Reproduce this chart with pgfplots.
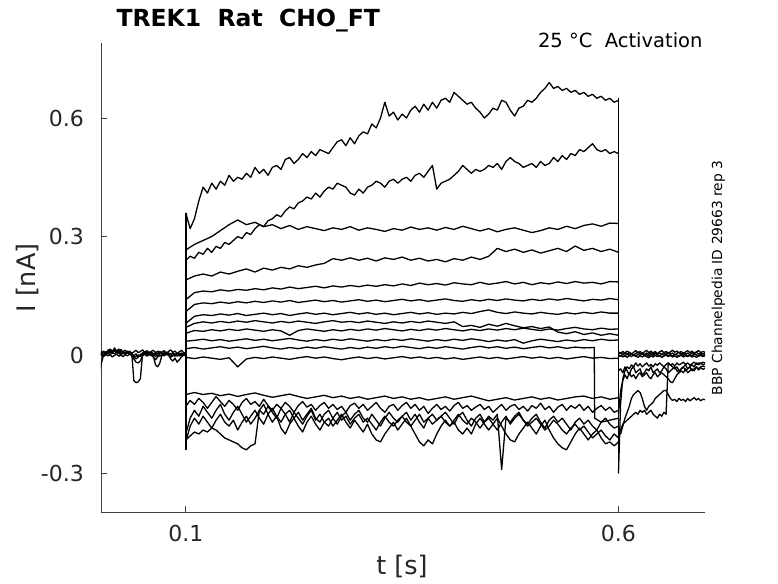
\documentclass[border=0pt]{standalone}
\usepackage{fontspec}
\setmainfont{DejaVu Sans}
\usepackage{pgfplots}
\pgfplotsset{compat=1.18}
\newcommand{\trace}[3]{\addplot[black, line width=1.3pt, line join=round, mark=none] table[row sep=\\, header=false, y index=0, x expr={#1+#2*\coordindex}] {#3};}
\begin{document}
\begin{tikzpicture}
\useasboundingbox (-101pt,-71pt) rectangle (677pt,512pt);
\begin{axis}[
 at={(0pt,0pt)}, anchor=south west,
 scale only axis, width=604pt, height=469pt,
 xmin=0.002, xmax=0.7, ymin=-0.3975, ymax=0.79,
 axis x line*=bottom, axis y line*=left,
 axis line style={draw=black!75, line width=0.8pt, -},
 xtick={0.1,0.6}, xticklabels={0.1,0.6},
 ytick={-0.3,0,0.3,0.6}, yticklabels={-0.3,0,0.3,0.6},
 tick align=inside, major tick length=6pt,
 tick style={draw=black!75, line width=0.8pt},
 ticklabel style={font=\fontsize{22}{26}\selectfont, text=black!85},
 xticklabel style={inner sep=0pt, anchor=north, yshift=-13pt},
 yticklabel style={inner sep=0pt, anchor=east, xshift=-17pt},
 clip=true,
 cycle list={{black,mark=none}},
]
% ---- pre-pulse (0 - 0.1), step 0.0025
\trace{0}{0.0025}{-0.045\\-0.02\\0.0\\0.008\\0.004\\0.01\\0.006\\0.012\\0.005\\0.009\\0.003\\0.008\\0.004\\0.01\\0.005\\0.002\\-0.005\\-0.01\\-0.005\\0.0\\0.004\\0.008\\0.003\\0.007\\0.002\\-0.006\\-0.012\\-0.005\\0.003\\0.006\\0.002\\0.007\\0.001\\-0.01\\-0.015\\-0.008\\-0.018\\-0.012\\-0.005\\0.0\\0.003\\}
\trace{0}{0.0025}{0.005\\0.002\\0.008\\0.004\\0.012\\0.015\\0.01\\0.014\\0.008\\0.011\\0.006\\0.009\\0.004\\0.007\\0.003\\0.006\\-0.065\\-0.07\\-0.068\\-0.06\\0.002\\0.006\\0.003\\0.008\\0.004\\0.0\\0.006\\0.002\\0.007\\0.003\\0.006\\0.002\\0.005\\0.001\\0.004\\0.0\\0.003\\-0.002\\0.002\\0.004\\0.0\\}
\trace{0}{0.0025}{0.0\\0.004\\0.001\\0.006\\0.003\\0.008\\0.004\\0.018\\0.01\\0.015\\0.008\\0.005\\0.002\\0.006\\0.003\\0.0\\-0.01\\-0.018\\-0.02\\-0.015\\-0.002\\0.004\\0.001\\0.005\\0.002\\-0.003\\-0.025\\-0.03\\-0.02\\0.0\\0.004\\0.001\\0.005\\0.002\\0.006\\0.002\\-0.003\\0.002\\0.005\\0.001\\0.004\\}
\trace{0}{0.0025}{0.008\\0.003\\0.007\\0.002\\0.005\\0.001\\0.006\\0.003\\0.008\\0.004\\0.001\\0.005\\0.002\\0.006\\0.009\\0.004\\-0.002\\0.003\\-0.005\\0.001\\0.005\\0.002\\0.006\\0.003\\0.007\\0.004\\0.001\\0.005\\0.009\\0.004\\0.001\\0.005\\0.002\\-0.005\\-0.002\\0.003\\0.0\\0.004\\-0.003\\0.002\\0.0\\}
\trace{0}{0.0025}{-0.003\\0.0\\-0.004\\0.002\\-0.002\\0.001\\-0.005\\-0.001\\0.002\\-0.003\\0.0\\-0.004\\0.001\\-0.002\\0.002\\-0.001\\-0.006\\-0.003\\0.0\\-0.004\\-0.001\\0.002\\-0.003\\0.001\\-0.002\\0.002\\-0.004\\0.0\\-0.003\\0.001\\-0.002\\0.002\\-0.001\\-0.004\\0.0\\-0.003\\0.001\\-0.002\\0.002\\-0.001\\0.0\\}
\trace{0}{0.0025}{0.012\\0.006\\0.01\\0.004\\0.009\\0.013\\0.007\\0.011\\0.005\\0.01\\0.014\\0.008\\0.012\\0.006\\0.01\\0.004\\0.008\\0.012\\0.006\\0.009\\0.013\\0.007\\0.011\\0.005\\0.009\\0.012\\0.006\\0.01\\0.004\\0.008\\0.011\\0.005\\0.009\\0.013\\0.007\\0.01\\0.004\\0.008\\0.012\\0.006\\0.005\\}
% ---- steps
\addplot[black, line width=1.5pt, mark=none] coordinates {(0.1,-0.24) (0.1,0.36)};
\addplot[black, line width=1.3pt, mark=none] coordinates {(0.6,-0.3) (0.6,0.65)};
% ---- T1
\trace{0.1}{0.005}{0.36\\0.32\\0.345\\0.39\\0.425\\0.41\\0.435\\0.42\\0.44\\0.43\\0.455\\0.44\\0.45\\0.445\\0.46\\0.45\\0.475\\0.46\\0.47\\0.455\\0.475\\0.48\\0.47\\0.495\\0.50\\0.485\\0.495\\0.51\\0.50\\0.515\\0.505\\0.52\\0.515\\0.51\\0.525\\0.54\\0.545\\0.53\\0.55\\0.535\\0.555\\0.565\\0.56\\0.585\\0.575\\0.60\\0.64\\0.605\\0.615\\0.595\\0.61\\0.60\\0.62\\0.63\\0.615\\0.635\\0.62\\0.64\\0.625\\0.645\\0.65\\0.64\\0.665\\0.655\\0.645\\0.635\\0.64\\0.625\\0.615\\0.60\\0.61\\0.625\\0.62\\0.645\\0.64\\0.62\\0.605\\0.625\\0.63\\0.645\\0.64\\0.65\\0.665\\0.675\\0.69\\0.675\\0.68\\0.67\\0.675\\0.665\\0.67\\0.66\\0.665\\0.655\\0.66\\0.65\\0.655\\0.645\\0.65\\0.64\\0.645\\}
% ---- T2
\trace{0.1}{0.005}{0.24\\0.25\\0.245\\0.26\\0.255\\0.27\\0.26\\0.275\\0.27\\0.285\\0.28\\0.29\\0.30\\0.295\\0.31\\0.305\\0.32\\0.33\\0.325\\0.34\\0.345\\0.355\\0.35\\0.365\\0.375\\0.37\\0.385\\0.39\\0.40\\0.395\\0.41\\0.40\\0.415\\0.425\\0.42\\0.435\\0.43\\0.425\\0.41\\0.405\\0.42\\0.41\\0.425\\0.43\\0.44\\0.435\\0.425\\0.44\\0.445\\0.435\\0.445\\0.45\\0.44\\0.455\\0.46\\0.45\\0.465\\0.48\\0.42\\0.435\\0.44\\0.445\\0.455\\0.465\\0.48\\0.47\\0.46\\0.47\\0.465\\0.47\\0.48\\0.475\\0.485\\0.47\\0.49\\0.50\\0.49\\0.485\\0.475\\0.48\\0.485\\0.475\\0.49\\0.48\\0.485\\0.50\\0.49\\0.505\\0.495\\0.51\\0.505\\0.52\\0.515\\0.525\\0.535\\0.52\\0.515\\0.52\\0.51\\0.515\\0.51\\}
% ---- T3
\trace{0.1}{0.01}{0.266\\0.28\\0.29\\0.30\\0.315\\0.33\\0.342\\0.33\\0.336\\0.325\\0.33\\0.32\\0.328\\0.318\\0.325\\0.32\\0.315\\0.322\\0.318\\0.325\\0.316\\0.322\\0.318\\0.313\\0.32\\0.316\\0.324\\0.318\\0.322\\0.316\\0.323\\0.318\\0.326\\0.32\\0.314\\0.32\\0.312\\0.318\\0.322\\0.316\\0.31\\0.315\\0.322\\0.318\\0.326\\0.32\\0.328\\0.332\\0.326\\0.334\\0.333\\}
% ---- T4
\trace{0.1}{0.01}{0.19\\0.2\\0.205\\0.2\\0.21\\0.205\\0.212\\0.218\\0.21\\0.22\\0.215\\0.222\\0.218\\0.226\\0.222\\0.228\\0.232\\0.244\\0.24\\0.246\\0.24\\0.245\\0.238\\0.246\\0.242\\0.248\\0.24\\0.245\\0.238\\0.242\\0.236\\0.244\\0.24\\0.248\\0.242\\0.25\\0.27\\0.262\\0.268\\0.26\\0.266\\0.258\\0.264\\0.27\\0.262\\0.276\\0.265\\0.27\\0.262\\0.268\\0.26\\}
% ---- T5
\trace{0.1}{0.01}{0.14\\0.158\\0.162\\0.16\\0.165\\0.162\\0.166\\0.164\\0.168\\0.165\\0.17\\0.167\\0.172\\0.168\\0.171\\0.174\\0.17\\0.175\\0.172\\0.176\\0.173\\0.177\\0.174\\0.178\\0.175\\0.18\\0.176\\0.182\\0.178\\0.181\\0.177\\0.183\\0.18\\0.178\\0.184\\0.179\\0.182\\0.186\\0.18\\0.184\\0.178\\0.183\\0.18\\0.185\\0.181\\0.186\\0.182\\0.184\\0.18\\0.186\\0.185\\}
% ---- T6
\trace{0.1}{0.01}{0.11\\0.128\\0.132\\0.13\\0.134\\0.131\\0.135\\0.132\\0.136\\0.133\\0.137\\0.134\\0.138\\0.133\\0.136\\0.139\\0.135\\0.138\\0.134\\0.137\\0.14\\0.136\\0.139\\0.135\\0.138\\0.141\\0.137\\0.14\\0.136\\0.139\\0.142\\0.138\\0.136\\0.14\\0.137\\0.141\\0.138\\0.142\\0.139\\0.137\\0.141\\0.138\\0.142\\0.139\\0.143\\0.14\\0.137\\0.141\\0.139\\0.143\\0.14\\}
% ---- T7
\trace{0.1}{0.01}{0.08\\0.098\\0.102\\0.1\\0.104\\0.101\\0.105\\0.1\\0.103\\0.106\\0.102\\0.105\\0.1\\0.104\\0.107\\0.103\\0.106\\0.102\\0.105\\0.108\\0.104\\0.107\\0.103\\0.106\\0.102\\0.105\\0.108\\0.104\\0.107\\0.103\\0.106\\0.104\\0.108\\0.105\\0.11\\0.114\\0.108\\0.105\\0.109\\0.106\\0.104\\0.108\\0.105\\0.103\\0.107\\0.104\\0.108\\0.105\\0.109\\0.106\\0.106\\}
% ---- T8
\trace{0.1}{0.01}{0.07\\0.08\\0.084\\0.081\\0.085\\0.082\\0.086\\0.083\\0.087\\0.084\\0.081\\0.085\\0.082\\0.086\\0.083\\0.08\\0.084\\0.087\\0.083\\0.085\\0.082\\0.086\\0.083\\0.08\\0.084\\0.081\\0.085\\0.082\\0.086\\0.083\\0.08\\0.084\\0.072\\0.075\\0.07\\0.078\\0.073\\0.08\\0.074\\0.069\\0.072\\0.067\\0.071\\0.058\\0.054\\0.059\\0.052\\0.056\\0.05\\0.054\\0.05\\}
% ---- T9
\trace{0.1}{0.01}{0.055\\0.062\\0.06\\0.064\\0.061\\0.065\\0.062\\0.066\\0.063\\0.06\\0.064\\0.061\\0.05\\0.062\\0.066\\0.063\\0.06\\0.064\\0.061\\0.065\\0.062\\0.066\\0.063\\0.067\\0.064\\0.061\\0.065\\0.062\\0.066\\0.063\\0.067\\0.064\\0.061\\0.065\\0.062\\0.066\\0.063\\0.067\\0.064\\0.068\\0.065\\0.062\\0.066\\0.063\\0.067\\0.07\\0.066\\0.064\\0.068\\0.065\\0.066\\}
% ---- T10
\trace{0.1}{0.01}{0.035\\0.037\\0.04\\0.036\\0.039\\0.035\\0.038\\0.041\\0.037\\0.04\\0.036\\0.039\\0.042\\0.038\\0.035\\0.039\\0.036\\0.04\\0.037\\0.041\\0.038\\0.035\\0.039\\0.036\\0.04\\0.037\\0.041\\0.038\\0.035\\0.039\\0.036\\0.04\\0.037\\0.041\\0.038\\0.034\\0.038\\0.035\\0.039\\0.03\\0.036\\0.04\\0.037\\0.034\\0.038\\0.035\\0.039\\0.036\\0.04\\0.037\\0.038\\}
% ---- T11 (drops at the end)
\addplot[black, line width=1.3pt, line join=round, mark=none] table[row sep=\\, header=false, x index=0, y index=1] {0.10 0.016\\0.11 0.019\\0.12 0.015\\0.13 0.018\\0.14 0.021\\0.15 0.017\\0.16 0.02\\0.17 0.016\\0.18 0.019\\0.19 0.022\\0.20 0.018\\0.21 0.015\\0.22 0.019\\0.23 0.016\\0.24 0.02\\0.25 0.017\\0.26 0.021\\0.27 0.018\\0.28 0.015\\0.29 0.019\\0.30 0.016\\0.31 0.02\\0.32 0.017\\0.33 0.021\\0.34 0.018\\0.35 0.022\\0.36 0.019\\0.37 0.016\\0.38 0.02\\0.39 0.017\\0.40 0.021\\0.41 0.018\\0.42 0.015\\0.43 0.019\\0.44 0.022\\0.45 0.018\\0.46 0.021\\0.47 0.017\\0.48 0.02\\0.49 0.016\\0.50 0.019\\0.51 0.022\\0.52 0.018\\0.53 0.021\\0.54 0.017\\0.55 0.02\\0.56 0.018\\0.572 0.019\\0.5725 -0.16\\0.58 -0.17\\0.59 -0.165\\0.60 -0.16\\};
% ---- T12
\trace{0.1}{0.01}{-0.006\\-0.009\\-0.005\\-0.008\\-0.011\\-0.007\\-0.03\\-0.01\\-0.006\\-0.009\\-0.005\\-0.008\\-0.011\\-0.007\\-0.004\\-0.008\\-0.005\\-0.009\\-0.012\\-0.008\\-0.005\\-0.009\\-0.006\\-0.01\\-0.007\\-0.004\\-0.008\\-0.005\\-0.009\\-0.006\\-0.01\\-0.007\\-0.011\\-0.008\\-0.005\\-0.009\\-0.006\\-0.01\\-0.007\\-0.004\\-0.008\\-0.005\\-0.009\\-0.006\\-0.01\\-0.007\\-0.004\\-0.008\\-0.006\\-0.009\\-0.008\\}
% ---- N1
\trace{0.1}{0.01}{-0.1\\-0.095\\-0.1\\-0.097\\-0.103\\-0.099\\-0.105\\-0.1\\-0.096\\-0.102\\-0.107\\-0.103\\-0.099\\-0.105\\-0.11\\-0.106\\-0.102\\-0.108\\-0.104\\-0.11\\-0.106\\-0.112\\-0.108\\-0.104\\-0.11\\-0.106\\-0.112\\-0.108\\-0.114\\-0.11\\-0.106\\-0.112\\-0.108\\-0.104\\-0.11\\-0.116\\-0.112\\-0.108\\-0.114\\-0.11\\-0.106\\-0.112\\-0.108\\-0.114\\-0.11\\-0.106\\-0.104\\-0.11\\-0.106\\-0.112\\-0.108\\}
% ---- N2
\trace{0.1}{0.005}{-0.13\\-0.115\\-0.125\\-0.11\\-0.12\\-0.135\\-0.12\\-0.105\\-0.118\\-0.13\\-0.115\\-0.125\\-0.14\\-0.12\\-0.11\\-0.125\\-0.118\\-0.13\\-0.112\\-0.128\\-0.14\\-0.125\\-0.135\\-0.12\\-0.13\\-0.145\\-0.128\\-0.118\\-0.132\\-0.125\\-0.14\\-0.128\\-0.12\\-0.135\\-0.125\\-0.138\\-0.13\\-0.145\\-0.128\\-0.122\\-0.135\\-0.125\\-0.14\\-0.13\\-0.12\\-0.135\\-0.145\\-0.13\\-0.125\\-0.14\\-0.128\\-0.12\\-0.135\\-0.125\\-0.14\\-0.13\\-0.148\\-0.135\\-0.125\\-0.138\\-0.13\\-0.142\\-0.128\\-0.12\\-0.135\\-0.128\\-0.14\\-0.132\\-0.125\\-0.138\\-0.13\\-0.145\\-0.135\\-0.125\\-0.14\\-0.13\\-0.125\\-0.138\\-0.13\\-0.142\\-0.128\\-0.135\\-0.122\\-0.138\\-0.13\\-0.145\\-0.132\\-0.125\\-0.14\\-0.128\\-0.135\\-0.125\\-0.14\\-0.13\\-0.145\\-0.135\\-0.128\\-0.14\\-0.132\\-0.145\\-0.14\\}
% ---- N3
\trace{0.1}{0.005}{-0.2\\-0.16\\-0.14\\-0.155\\-0.13\\-0.145\\-0.16\\-0.14\\-0.125\\-0.15\\-0.165\\-0.145\\-0.13\\-0.15\\-0.17\\-0.155\\-0.14\\-0.16\\-0.175\\-0.15\\-0.135\\-0.155\\-0.17\\-0.15\\-0.14\\-0.16\\-0.145\\-0.165\\-0.15\\-0.135\\-0.16\\-0.17\\-0.15\\-0.14\\-0.16\\-0.175\\-0.155\\-0.145\\-0.165\\-0.15\\-0.14\\-0.16\\-0.17\\-0.15\\-0.165\\-0.18\\-0.16\\-0.145\\-0.16\\-0.17\\-0.155\\-0.145\\-0.165\\-0.15\\-0.17\\-0.185\\-0.16\\-0.15\\-0.165\\-0.155\\-0.145\\-0.16\\-0.175\\-0.155\\-0.145\\-0.165\\-0.18\\-0.16\\-0.15\\-0.17\\-0.155\\-0.165\\-0.15\\-0.29\\-0.16\\-0.17\\-0.155\\-0.145\\-0.165\\-0.175\\-0.16\\-0.15\\-0.17\\-0.185\\-0.165\\-0.155\\-0.17\\-0.16\\-0.175\\-0.19\\-0.17\\-0.16\\-0.175\\-0.165\\-0.18\\-0.19\\-0.17\\-0.16\\-0.175\\-0.185\\-0.18\\}
% ---- N4
\trace{0.1}{0.005}{-0.22\\-0.18\\-0.16\\-0.175\\-0.155\\-0.17\\-0.185\\-0.165\\-0.15\\-0.17\\-0.18\\-0.165\\-0.19\\-0.17\\-0.155\\-0.175\\-0.16\\-0.14\\-0.125\\-0.15\\-0.17\\-0.155\\-0.185\\-0.2\\-0.175\\-0.16\\-0.18\\-0.195\\-0.17\\-0.155\\-0.175\\-0.19\\-0.17\\-0.16\\-0.18\\-0.165\\-0.15\\-0.17\\-0.185\\-0.165\\-0.18\\-0.195\\-0.175\\-0.2\\-0.215\\-0.22\\-0.2\\-0.185\\-0.17\\-0.19\\-0.175\\-0.16\\-0.18\\-0.2\\-0.22\\-0.23\\-0.215\\-0.225\\-0.2\\-0.18\\-0.165\\-0.18\\-0.17\\-0.19\\-0.2\\-0.185\\-0.2\\-0.175\\-0.16\\-0.175\\-0.19\\-0.175\\-0.16\\-0.18\\-0.2\\-0.215\\-0.22\\-0.2\\-0.185\\-0.17\\-0.185\\-0.2\\-0.18\\-0.165\\-0.19\\-0.21\\-0.225\\-0.235\\-0.24\\-0.22\\-0.2\\-0.185\\-0.2\\-0.215\\-0.2\\-0.19\\-0.21\\-0.225\\-0.22\\-0.23\\-0.22\\}
% ---- N5
\trace{0.1}{0.005}{-0.215\\-0.205\\-0.195\\-0.2\\-0.19\\-0.195\\-0.185\\-0.19\\-0.2\\-0.21\\-0.215\\-0.22\\-0.225\\-0.235\\-0.24\\-0.23\\-0.225\\-0.14\\-0.15\\-0.13\\-0.145\\-0.16\\-0.135\\-0.15\\-0.17\\-0.145\\-0.16\\-0.175\\-0.155\\-0.14\\-0.165\\-0.15\\-0.17\\-0.18\\-0.16\\-0.145\\-0.165\\-0.155\\-0.175\\-0.16\\-0.15\\-0.17\\-0.16\\-0.175\\-0.19\\-0.17\\-0.155\\-0.17\\-0.18\\-0.165\\-0.155\\-0.17\\-0.18\\-0.165\\-0.15\\-0.17\\-0.16\\-0.175\\-0.165\\-0.155\\-0.17\\-0.18\\-0.165\\-0.15\\-0.165\\-0.175\\-0.16\\-0.17\\-0.185\\-0.17\\-0.16\\-0.175\\-0.19\\-0.17\\-0.155\\-0.175\\-0.16\\-0.15\\-0.165\\-0.18\\-0.17\\-0.16\\-0.175\\-0.19\\-0.18\\-0.165\\-0.175\\-0.19\\-0.2\\-0.185\\-0.175\\-0.19\\-0.18\\-0.195\\-0.21\\-0.2\\-0.19\\-0.205\\-0.215\\-0.2\\-0.21\\}
% ---- post-pulse (0.6 - 0.7), step 0.0025
\trace{0.6}{0.0025}{0.003\\0.006\\0.001\\0.005\\0.002\\0.007\\0.003\\0.0\\0.004\\0.008\\0.003\\0.006\\0.001\\0.005\\0.002\\0.006\\0.003\\0.007\\0.002\\0.005\\0.001\\0.006\\0.003\\0.007\\0.002\\0.005\\0.0\\0.004\\0.007\\0.003\\0.006\\0.002\\0.005\\0.001\\0.006\\0.003\\0.007\\0.002\\0.005\\0.003\\0.004\\}
\trace{0.6}{0.0025}{-0.004\\-0.001\\-0.005\\-0.002\\-0.006\\-0.001\\-0.004\\0.0\\-0.003\\-0.006\\-0.002\\-0.005\\-0.001\\-0.004\\-0.007\\-0.002\\-0.005\\-0.001\\-0.004\\-0.002\\-0.006\\-0.003\\0.0\\-0.004\\-0.001\\-0.005\\-0.002\\-0.006\\-0.003\\-0.001\\-0.005\\-0.002\\-0.004\\-0.001\\-0.005\\-0.002\\-0.006\\-0.003\\-0.001\\-0.004\\-0.002\\}
\trace{0.6}{0.0025}{0.0\\-0.003\\0.002\\-0.002\\0.003\\-0.001\\0.004\\0.0\\-0.003\\0.002\\-0.001\\0.003\\-0.002\\0.001\\-0.003\\0.002\\-0.001\\0.004\\0.0\\-0.002\\0.002\\-0.001\\0.003\\-0.002\\0.001\\-0.003\\0.002\\0.0\\-0.002\\0.003\\-0.001\\0.002\\-0.003\\0.001\\-0.002\\0.003\\0.0\\-0.002\\0.002\\-0.001\\0.001\\}
\trace{0.6}{0.0025}{0.008\\0.004\\0.009\\0.005\\0.01\\0.006\\0.002\\0.007\\0.011\\0.005\\0.009\\0.004\\0.008\\0.012\\0.006\\0.01\\0.005\\0.009\\0.003\\0.008\\0.011\\0.006\\0.009\\0.004\\0.008\\0.012\\0.007\\0.01\\0.005\\0.009\\0.003\\0.008\\0.011\\0.006\\0.01\\0.004\\0.008\\0.011\\0.006\\0.009\\0.007\\}
\trace{0.6}{0.0025}{-0.04\\-0.035\\-0.045\\-0.03\\-0.04\\-0.05\\-0.035\\-0.03\\-0.045\\-0.04\\-0.035\\-0.05\\-0.045\\-0.035\\-0.04\\-0.03\\-0.045\\-0.04\\-0.035\\-0.045\\-0.04\\-0.03\\-0.035\\-0.045\\-0.04\\-0.035\\-0.03\\-0.04\\-0.045\\-0.035\\-0.03\\-0.04\\-0.035\\-0.03\\-0.04\\-0.035\\-0.03\\-0.038\\-0.032\\-0.036\\-0.034\\}
\trace{0.6}{0.0025}{-0.15\\-0.09\\-0.065\\-0.05\\-0.06\\-0.045\\-0.055\\-0.05\\-0.06\\-0.05\\-0.045\\-0.055\\-0.05\\-0.045\\-0.055\\-0.06\\-0.05\\-0.045\\-0.055\\-0.05\\-0.045\\-0.05\\-0.055\\-0.06\\-0.068\\-0.07\\-0.06\\-0.05\\-0.045\\-0.04\\-0.045\\-0.035\\-0.045\\-0.04\\-0.035\\-0.04\\-0.03\\-0.035\\-0.03\\-0.028\\-0.03\\}
\trace{0.6}{0.0025}{-0.2\\-0.2\\-0.18\\-0.16\\-0.145\\-0.13\\-0.11\\-0.1\\-0.095\\-0.09\\-0.095\\-0.11\\-0.13\\-0.14\\-0.13\\-0.125\\-0.12\\-0.11\\-0.105\\-0.1\\-0.095\\-0.09\\-0.09\\-0.1\\-0.11\\-0.115\\-0.112\\-0.118\\-0.11\\-0.115\\-0.112\\-0.118\\-0.11\\-0.116\\-0.112\\-0.108\\-0.114\\-0.11\\-0.116\\-0.112\\-0.113\\}
\trace{0.6}{0.0025}{-0.2\\-0.19\\-0.175\\-0.17\\-0.165\\-0.16\\-0.155\\-0.15\\-0.145\\-0.15\\-0.14\\-0.145\\-0.14\\-0.15\\-0.145\\-0.14\\-0.15\\-0.155\\-0.16\\-0.15\\-0.155\\-0.145\\-0.15\\-0.02\\-0.025\\-0.03\\-0.035\\-0.03\\-0.04\\-0.035\\-0.03\\-0.025\\-0.035\\-0.03\\-0.025\\-0.03\\-0.02\\-0.025\\-0.02\\-0.025\\-0.022\\}
\trace{0.6}{0.0025}{-0.3\\-0.12\\-0.06\\-0.04\\-0.03\\-0.035\\-0.025\\-0.03\\-0.02\\-0.028\\-0.022\\-0.03\\-0.025\\-0.02\\-0.028\\-0.024\\-0.03\\-0.022\\-0.026\\-0.02\\-0.025\\-0.03\\-0.024\\-0.02\\-0.026\\-0.022\\-0.028\\-0.02\\-0.025\\-0.022\\-0.018\\-0.024\\-0.02\\-0.026\\-0.022\\-0.018\\-0.024\\-0.02\\-0.022\\-0.018\\-0.02\\}
\end{axis}
\node[anchor=base west, font=\fontsize{23.5}{28}\selectfont\bfseries] at (12pt,485pt) {TREK1\ \ Rat\ \ CHO\_FT};
\node[anchor=base east, font=\fontsize{19.5}{23}\selectfont] at (605pt,464pt) {25 °C\ \ Activation};
\node[rotate=90, anchor=base, font=\fontsize{13.8}{16}\selectfont] at (621pt,234pt) {BBP Channelpedia ID 29663 rep 3};
\node[rotate=90, font=\fontsize{25.5}{30}\selectfont, text=black!85] at (-74pt,234pt) {I [nA]};
\node[font=\fontsize{25.5}{30}\selectfont, text=black!85] at (301pt,-54pt) {t [s]};
\end{tikzpicture}
\end{document}
